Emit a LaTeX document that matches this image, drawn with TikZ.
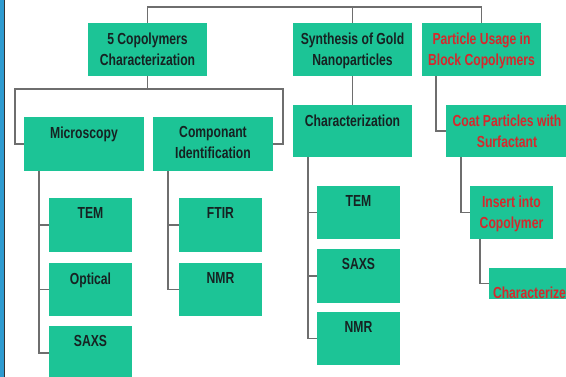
\documentclass[tikz,border=0pt]{standalone}
\usepackage{fontspec}
\newfontfamily\boxfont{Liberation Sans}[FakeStretch=0.76]
\definecolor{boxgreen}{RGB}{28,196,150}
\definecolor{darktext}{RGB}{22,34,34}
\definecolor{redtext}{RGB}{214,40,44}
\definecolor{linegray}{RGB}{110,110,110}
\definecolor{sidebar}{RGB}{46,155,208}
\begin{document}
\begin{tikzpicture}[x=1pt,y=-1pt,
  box/.style={fill=boxgreen, draw=none, inner sep=0pt, rectangle},
  lbl/.style={anchor=north, yshift=-9.5pt, inner sep=0pt, align=center,
    font=\boxfont\bfseries\fontsize{16}{21}\selectfont, text=darktext},
  rlbl/.style={lbl, text=redtext},
  conn/.style={draw=linegray, line width=1.2pt}]
\useasboundingbox (0,0) rectangle (566,377);
\clip (0,0) rectangle (566,377);
\fill[white] (0,0) rectangle (566,377);
\fill[sidebar] (0,0) rectangle (4,377);
\draw[black!80, line width=1.2pt] (4.6,0) -- (4.6,377);

% level 1
\node[box, minimum width=119pt, minimum height=53pt,
  label={[lbl]north:{5 Copolymers\\Characterization}}] (cop) at (147.5,49.5) {};
\node[box, minimum width=119pt, minimum height=53pt,
  label={[lbl]north:{Synthesis of Gold\\Nanoparticles}}] (syn) at (352.5,49.5) {};
\node[box, minimum width=119pt, minimum height=53pt,
  label={[rlbl]north:{Particle Usage in\\Block Copolymers}}] (part) at (481.5,49.5) {};

% level 2
\node[box, minimum width=120pt, minimum height=54pt,
  label={[lbl]north:{Microscopy}}] (mic) at (84,144) {};
\node[box, minimum width=120pt, minimum height=54pt,
  label={[lbl]north:{Componant\\Identification}}] (comp) at (213,144) {};
\node[box, minimum width=119pt, minimum height=52pt,
  label={[lbl]north:{Characterization}}] (char) at (352.5,131) {};
\node[box, minimum width=122pt, minimum height=52pt,
  label={[rlbl]north:{Coat Particles with\\Surfactant}}] (coat) at (507,131) {};

% level 3
\node[box, minimum width=83pt, minimum height=54pt,
  label={[lbl]north:{TEM}}] (tem1) at (90.5,225) {};
\node[box, minimum width=83pt, minimum height=53pt,
  label={[lbl]north:{Optical}}] (opt) at (90.5,289.5) {};
\node[box, minimum width=83pt, minimum height=54pt,
  label={[lbl]north:{SAXS}}] (saxs1) at (90.5,353) {};
\node[box, minimum width=83pt, minimum height=54pt,
  label={[lbl]north:{FTIR}}] (ftir) at (220.5,225) {};
\node[box, minimum width=83pt, minimum height=53pt,
  label={[lbl]north:{NMR}}] (nmr1) at (220.5,289.5) {};
\node[box, minimum width=83pt, minimum height=53pt,
  label={[lbl]north:{TEM}}] (tem2) at (358.5,212.5) {};
\node[box, minimum width=83pt, minimum height=54pt,
  label={[lbl]north:{SAXS}}] (saxs2) at (358.5,276) {};
\node[box, minimum width=83pt, minimum height=53pt,
  label={[lbl]north:{NMR}}] (nmr2) at (358.5,338.5) {};
\node[box, minimum width=83pt, minimum height=53pt,
  label={[rlbl]north:{Insert into\\Copolymer}}] (ins) at (511.5,212.5) {};
\node[box, minimum width=111pt, minimum height=31pt,
  label={[rlbl, anchor=west, yshift=0pt, xshift=4pt]west:{Characterize}}] (chz) at (544.5,283.5) {};

% connectors
\coordinate (top) at (0,7);
\coordinate (b1l) at (15,89);
\coordinate (b1r) at (283,89);
\coordinate (m0) at (39,171);
\coordinate (c0) at (168,171);
\coordinate (s0) at (308,157);
\coordinate (p0) at (436,76);
\coordinate (q0) at (461,157);
\coordinate (r0) at (480,239);

\draw[conn] (cop.north) -- (cop.north |- top) -- (part.north |- top) -- (part.north);
\draw[conn] (syn.north) -- (syn.north |- top);
\draw[conn] (cop.south) -- (cop.south |- b1l);
\draw[conn] (mic.west) -| (b1l) -- (b1r) |- (comp.east);
\draw[conn] (m0) |- (saxs1.west);
\draw[conn] (tem1.west) -- (tem1.west -| m0);
\draw[conn] (opt.west) -- (opt.west -| m0);
\draw[conn] (c0) |- (nmr1.west);
\draw[conn] (ftir.west) -- (ftir.west -| c0);
\draw[conn] (syn.south) -- (char.north);
\draw[conn] (s0) |- (nmr2.west);
\draw[conn] (tem2.west) -- (tem2.west -| s0);
\draw[conn] (saxs2.west) -- (saxs2.west -| s0);
\draw[conn] (p0) |- (coat.west);
\draw[conn] (q0) |- (ins.west);
\draw[conn] (r0) |- (chz.west);
\end{tikzpicture}
\end{document}
